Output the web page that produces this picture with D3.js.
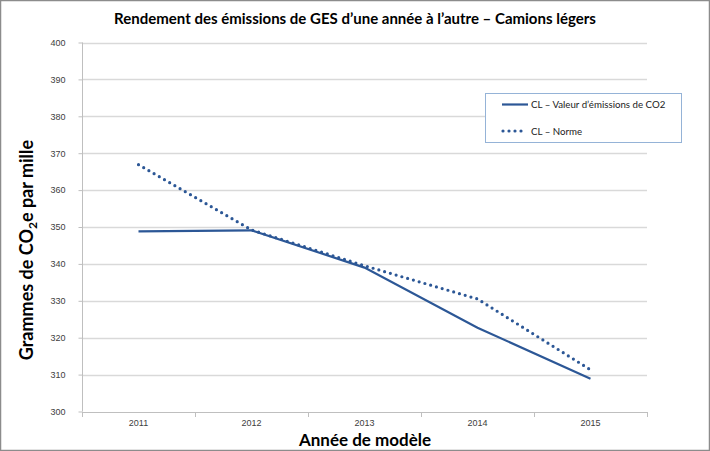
<!DOCTYPE html>
<html><head><meta charset="utf-8">
<script src="https://cdn.jsdelivr.net/npm/d3@7"></script>
<style>body{margin:0;background:#fff}svg{display:block}</style>
</head><body>
<svg id="c" width="710" height="451"></svg>
<script>
const years = ["2011","2012","2013","2014","2015"];
const valeurCO2 = [348.8, 349.1, 339.0, 322.7, 308.9];
const norme = [366.9, 349.2, 339.5, 330.5, 311.3];
const yTicks = [300,310,320,330,340,350,360,370,380,390,400];
const seriesNames = ["CL \u2013 Valeur d\u2019\u00e9missions de CO2", "CL \u2013 Norme"];

(function(){
const svg = d3.select("#c");
const W = 710, H = 451;
const pL = 82, pR = 647, pT = 42.5, pB = 411.5;
const col = "#2c5796";
const font = "Lato, 'Open Sans', sans-serif";
const tickFont = "'Liberation Sans', Arial, sans-serif";

svg.append("rect").attr("x",0.5).attr("y",0.5).attr("width",W-1).attr("height",H-1)
  .attr("fill","#fff").attr("stroke","#8c8c8c").attr("stroke-width",1.5);

const x = d3.scaleBand().domain(years).range([pL,pR]);
const y = d3.scaleLinear().domain([300,400]).range([pB,pT]);

svg.append("g").selectAll("line").data(yTicks.slice(1)).join("line")
  .attr("x1",pL).attr("x2",pR)
  .attr("y1",d=>Math.round(y(d))+0.5).attr("y2",d=>Math.round(y(d))+0.5)
  .attr("stroke","#d9d9d9").attr("stroke-width",1.3);

const ya = svg.append("g").attr("transform",`translate(${pL+0.5},0)`)
  .call(d3.axisLeft(y).tickValues(yTicks).tickSize(4).tickPadding(13).tickFormat(d3.format("d")));
ya.select(".domain").attr("stroke","#bfbfbf").attr("d",`M0,${pT}V${pB}`);
ya.selectAll(".tick line").attr("stroke","#bfbfbf");
ya.selectAll(".tick text").attr("fill","#404040").attr("font-size",9).attr("font-family",tickFont);

const xa = svg.append("g").attr("transform",`translate(0,${Math.round(pB)+0.5})`)
  .call(d3.axisBottom(x).tickSize(0).tickPadding(7.5));
xa.select(".domain").attr("stroke","#bfbfbf").attr("d",`M${pL},0H${pR}`);
xa.selectAll(".tick text").attr("fill","#404040").attr("font-size",9).attr("font-family",tickFont);
const bounds = years.map(d=>x(d)).concat([pR]);
svg.append("g").selectAll("line").data(bounds).join("line")
  .attr("x1",d=>Math.round(d)+0.5).attr("x2",d=>Math.round(d)+0.5)
  .attr("y1",Math.round(pB)).attr("y2",Math.round(pB)+5)
  .attr("stroke","#bfbfbf");

const cx = d=>x(d)+x.bandwidth()/2;
const line = d3.line().x((d,i)=>cx(years[i])).y(d=>y(d));

svg.append("path").datum(valeurCO2).attr("d",line)
  .attr("fill","none").attr("stroke",col).attr("stroke-width",2.2);
svg.append("path").datum(norme).attr("d",line)
  .attr("fill","none").attr("stroke",col).attr("stroke-width",3.2)
  .attr("stroke-linecap","round").attr("stroke-dasharray","0,6");

const lg = svg.append("g");
lg.append("rect").attr("x",485.5).attr("y",93.5).attr("width",196).attr("height",49)
  .attr("fill","#fff").attr("stroke","#95b3d7").attr("stroke-width",1);
lg.append("line").attr("x1",502).attr("x2",528).attr("y1",104.5).attr("y2",104.5)
  .attr("stroke",col).attr("stroke-width",2.2);
lg.append("line").attr("x1",503).attr("x2",527).attr("y1",131).attr("y2",131)
  .attr("stroke",col).attr("stroke-width",3.2).attr("stroke-linecap","round").attr("stroke-dasharray","0,6");
lg.append("text").attr("x",531).attr("y",108).text(seriesNames[0])
  .attr("font-size",9.7).attr("font-family",font).attr("fill","#222");
lg.append("text").attr("x",531).attr("y",134.5).text(seriesNames[1])
  .attr("font-size",9.7).attr("font-family",font).attr("fill","#222");

svg.append("text").attr("x",355).attr("y",24).attr("text-anchor","middle")
  .attr("font-size",15).attr("font-weight","bold").attr("font-family",font).attr("fill","#000")
  .text("Rendement des \u00e9missions de GES d\u2019une ann\u00e9e \u00e0 l\u2019autre \u2013 Camions l\u00e9gers");

svg.append("text").attr("x",365).attr("y",445.5).attr("text-anchor","middle")
  .attr("font-size",17).attr("font-weight","bold").attr("font-family",font).attr("fill","#000")
  .text("Ann\u00e9e de mod\u00e8le");

const yt = svg.append("text").attr("transform","translate(33,250) rotate(-90)").attr("text-anchor","middle")
  .attr("font-size",18).attr("font-weight","bold").attr("font-family",font).attr("fill","#000");
yt.append("tspan").text("Grammes de CO");
yt.append("tspan").attr("font-size",12).attr("dy",4).text("2");
yt.append("tspan").attr("dy",-4).text("e par mille");
})();
</script>
</body></html>
